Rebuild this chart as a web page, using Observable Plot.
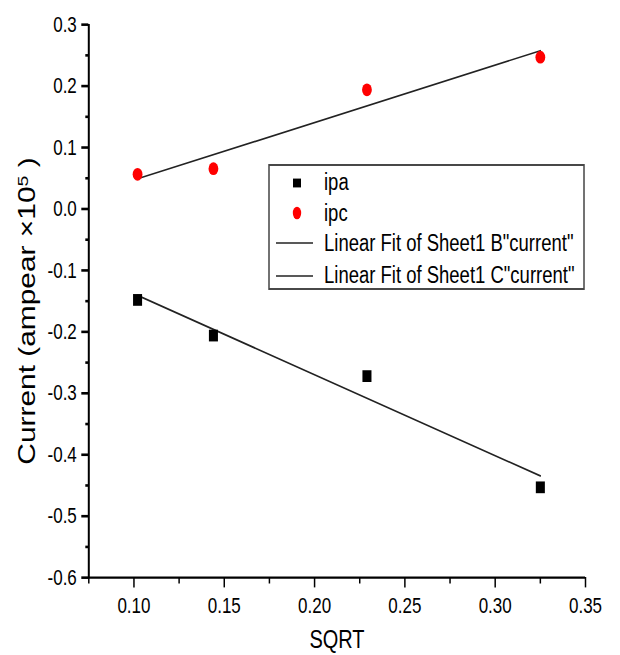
<!DOCTYPE html>
<html><head><meta charset="utf-8">
<script src="https://cdn.jsdelivr.net/npm/d3@7"></script>
<script src="https://cdn.jsdelivr.net/npm/@observablehq/plot@0.6"></script>
<style>html,body{margin:0;padding:0;background:#fff;overflow:hidden} #chart svg{display:block}</style>
</head><body><div id="chart"></div>
<script>
// ---- data ----
const sqrtX = [0.102, 0.144, 0.229, 0.325];
const ipa   = [-0.148, -0.206, -0.272, -0.453];
const ipc   = [0.0565, 0.0655, 0.194, 0.247];
const xTicks = [0.10, 0.15, 0.20, 0.25, 0.30, 0.35];
const xMinor = [0.075, 0.125, 0.175, 0.225, 0.275, 0.325];
const yTicks = [-0.6, -0.5, -0.4, -0.3, -0.2, -0.1, 0.0, 0.1, 0.2, 0.3];
const yMinor = [-0.55, -0.45, -0.35, -0.25, -0.15, -0.05, 0.05, 0.15, 0.25];
const seriesNames = ["ipa", "ipc"];
const fitNames = ['Linear Fit of Sheet1 B"current"', 'Linear Fit of Sheet1 C"current"'];
const xLabel = "SQRT";
const yLabelMain = "Current (ampear \u00d710";
const yLabelSup = "5";
const yLabelEnd = " )";

// ---- layout (reference is vertically stretched ~1.3x) ----
const S = 1.3;
const W = 620, H = 655 / S;
const font = "'Liberation Sans', Arial, Helvetica, sans-serif";
const rows = sqrtX.map((x, i) => ({x, ipa: ipa[i], ipc: ipc[i]}));

const plot = Plot.plot({
  width: W, height: H,
  marginLeft: 88.3, marginRight: 35, marginTop: 24 / S, marginBottom: H - 577 / S,
  style: {fontFamily: font, background: "#fff", color: "#000"},
  x: {domain: [0.075, 0.35]},
  y: {domain: [-0.6, 0.3]},
  marks: [
    Plot.axisX(xMinor, {tickSize: 5, tickFormat: () => "", strokeWidth: 1.5, label: null}),
    Plot.axisX(xTicks, {tickSize: 8, tickPadding: 7, tickFormat: d => d.toFixed(2), fontSize: 17, strokeWidth: 1.5, label: null, fill: "#000"}),
    Plot.axisY(yMinor, {tickSize: 3, tickFormat: () => "", strokeWidth: 2, label: null}),
    Plot.axisY(yTicks, {tickSize: 7, tickPadding: 5, tickFormat: d => d.toFixed(1), fontSize: 17, strokeWidth: 2, label: null, fill: "#000"}),
    Plot.ruleY([-0.6], {stroke: "#000", strokeWidth: 1.6}),
    Plot.ruleX([0.075], {stroke: "#000", strokeWidth: 2}),
    Plot.linearRegressionY(rows, {x: "x", y: "ipa", ci: 0, stroke: "#222", strokeWidth: 1.3}),
    Plot.linearRegressionY(rows, {x: "x", y: "ipc", ci: 0, stroke: "#222", strokeWidth: 1.3}),
    Plot.dot(rows, {x: "x", y: "ipa", symbol: "square", r: 5.1, fill: "#000", stroke: "none"}),
    Plot.dot(rows, {x: "x", y: "ipc", symbol: "circle", r: 4.9, fill: "#ff0000", stroke: "none"})
  ]
});

const svg = d3.select(plot);
svg.attr("height", 655).attr("preserveAspectRatio", "none")
   .style("height", "655px").style("max-width", "none").style("width", W + "px");

// axis titles
svg.append("text")
  .attr("x", 337).attr("y", 498.5)
  .attr("text-anchor", "middle")
  .attr("font-family", font).attr("font-size", 20).attr("fill", "#000")
  .text(xLabel);

const yl = svg.append("text")
  .attr("transform", `translate(35,${311 / S}) rotate(-90)`)
  .attr("text-anchor", "middle")
  .attr("font-family", font).attr("font-size", 23).attr("fill", "#000");
yl.append("tspan").text(yLabelMain);
yl.append("tspan").attr("dy", "-0.5em").attr("font-size", 15).text(yLabelSup);
yl.append("tspan").attr("dy", "0.33em").text(yLabelEnd);

// legend
const lg = svg.append("g").attr("font-family", font).attr("font-size", 18.5).attr("fill", "#000")
  .attr("text-anchor", "start");
lg.append("rect").attr("x", 269).attr("y", 165 / S).attr("width", 315).attr("height", (289 - 165) / S)
  .attr("fill", "#fff").attr("stroke", "#444").attr("stroke-width", 1.5);
const markY = [183 / S, 213 / S, 243 / S, 276 / S];
const textY = [190 / S, 221 / S, 250.7 / S, 282.7 / S];
lg.append("rect").attr("x", 293).attr("y", markY[0] - 3.4).attr("width", 8).attr("height", 6.8).attr("fill", "#000");
lg.append("ellipse").attr("cx", 297).attr("cy", markY[1]).attr("rx", 4.2).attr("ry", 4.9).attr("fill", "#ff0000");
[2, 3].forEach(i => lg.append("line").attr("x1", 276).attr("x2", 313).attr("y1", markY[i]).attr("y2", markY[i])
  .attr("stroke", "#222").attr("stroke-width", 1.3));
const labels = seriesNames.concat(fitNames);
labels.forEach((t, i) => lg.append("text").attr("x", 324).attr("y", textY[i]).attr("text-anchor", "start").text(t));

document.getElementById("chart").appendChild(plot);
</script>
</body></html>
